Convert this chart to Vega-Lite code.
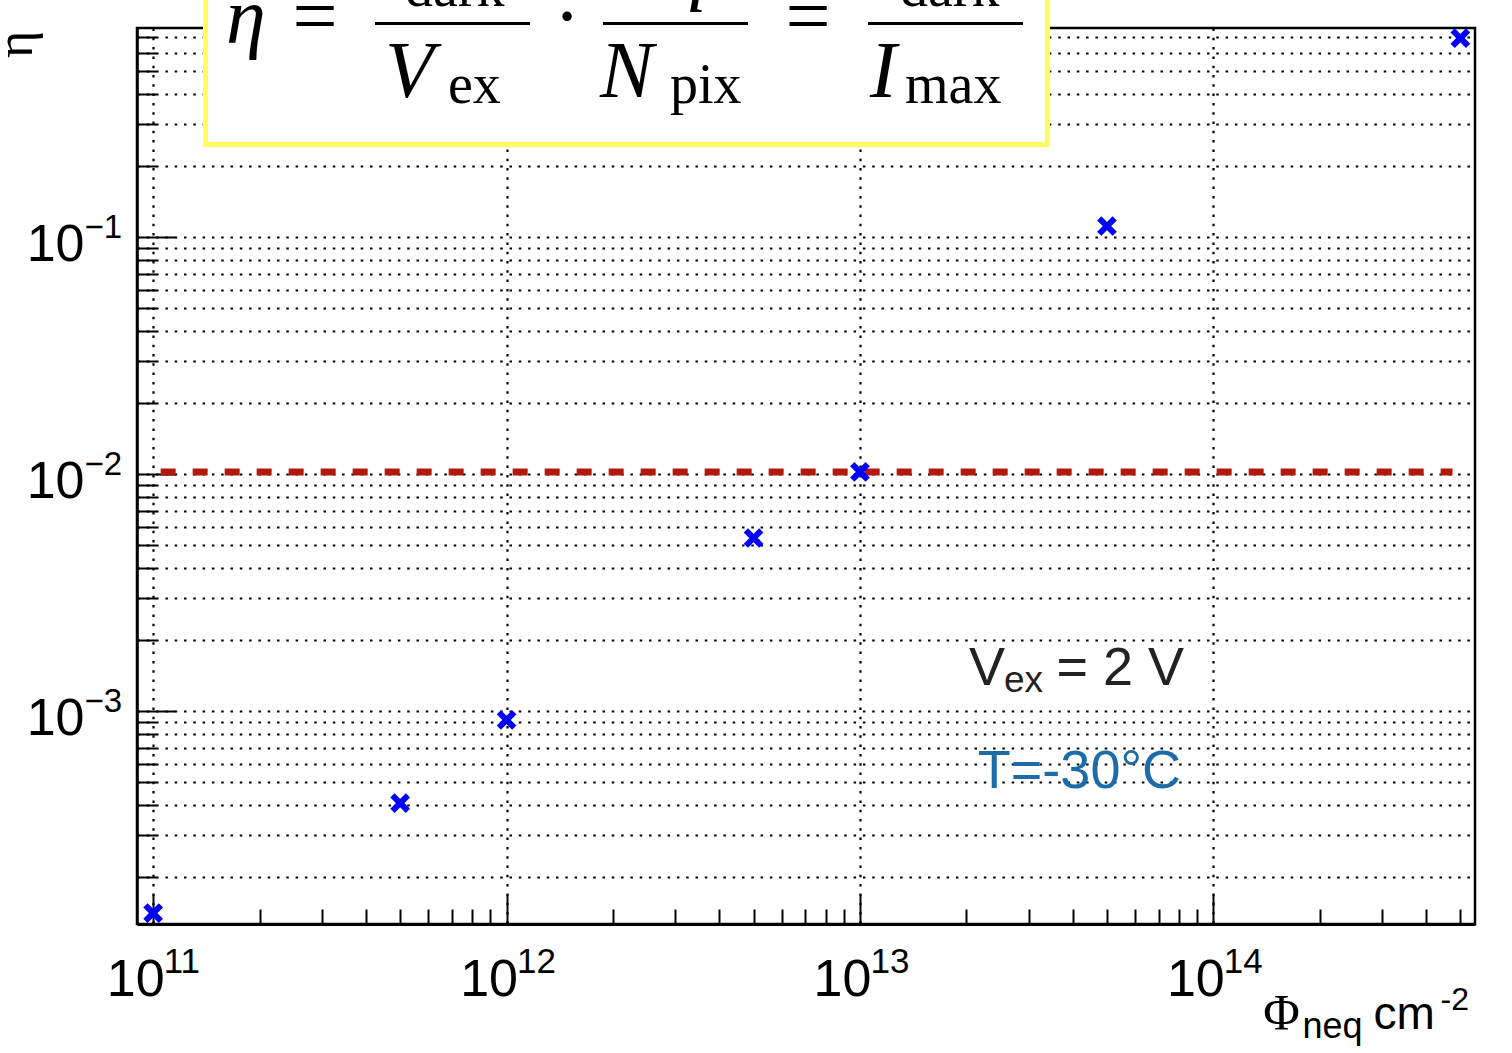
{
  "$schema": "https://vega.github.io/schema/vega-lite/v6.json",
  "width": 1338,
  "height": 896,
  "autosize": {"type": "none"},
  "padding": {"left": 137, "top": 28, "right": 37, "bottom": 129},
  "background": "white",
  "view": {"stroke": "black", "strokeWidth": 2.5},
  "config": {
    "axis": {
      "labelFont": "Liberation Sans",
      "titleFont": "Liberation Sans",
      "labelColor": "black",
      "titleColor": "black",
      "titleFontWeight": "normal",
      "labelFlush": false,
      "labelOverlap": false,
      "domainColor": "black",
      "tickColor": "black",
      "gridColor": "black"
    }
  },
  "resolve": {"axis": {"x": "independent", "y": "independent"}},
  "layer": [
    {
      "data": {"values": [{"phi": 1.05e11, "eta": 0.0102}, {"phi": 4.75e14, "eta": 0.0102}]},
      "mark": {"type": "line", "color": "#b5170c", "strokeWidth": 7, "strokeDash": [15, 17], "strokeCap": "butt"},
      "encoding": {
        "x": {"field": "phi", "type": "quantitative", "scale": {"type": "log", "domain": [9e10, 5.5e14], "nice": false},
          "axis": {"orient": "bottom", "values": [1e11, 1e12, 1e13, 1e14], "labelExpr": "'10'", "labelFontSize": 52, "labelAlign": "center", "labelBaseline": "alphabetic", "labelPadding": 71, "labelOffset": -18, "ticks": false, "domain": false, "grid": true, "gridDash": [2.5, 6.8], "gridWidth": 2.2, "title": "neq", "titleFontSize": 36, "titleX": 1165, "titleY": 113, "titleAlign": "left", "titleBaseline": "alphabetic", "titleAngle": 0}},
        "y": {"field": "eta", "type": "quantitative", "scale": {"type": "log", "domain": [1.263e-4, 0.762], "nice": false},
          "axis": {"orient": "left", "values": [0.001, 0.01, 0.1], "labelExpr": "'10'", "labelFontSize": 52, "labelAlign": "right", "labelBaseline": "alphabetic", "labelPadding": 53, "labelOffset": 23.5, "ticks": false, "domain": false, "grid": false, "title": null}}
      }
    },
    {
      "data": {"values": [{}]},
      "mark": {"type": "rect", "fill": "white", "stroke": "#ffff60", "strokeWidth": 5},
      "encoding": {
        "x": {"datum": 1.406e11, "type": "quantitative", "scale": {"type": "log", "domain": [9e10, 5.5e14], "nice": false},
          "axis": {"orient": "bottom", "values": [1e11, 1e12, 1e13, 1e14], "labelExpr": "'' + round(log(datum.value)/LN10)", "labelFontSize": 35, "labelAlign": "left", "labelBaseline": "alphabetic", "labelPadding": 48, "labelOffset": 10, "ticks": false, "domain": false, "grid": false, "title": "cm", "titleFontSize": 46, "titleX": 1236, "titleY": 104, "titleAlign": "left", "titleBaseline": "alphabetic", "titleAngle": 0}},
        "x2": {"datum": 3.394e13},
        "y": {"datum": 0.2457, "type": "quantitative", "scale": {"type": "log", "domain": [1.263e-4, 0.762], "nice": false},
          "axis": {"orient": "left", "values": [0.001, 0.01, 0.1], "labelExpr": "'−' + round(-log(datum.value)/LN10)", "labelFontSize": 33, "labelAlign": "left", "labelBaseline": "alphabetic", "labelPadding": 53, "labelOffset": 0, "ticks": false, "domain": false, "grid": false, "title": null}},
        "y2": {"datum": 5}
      }
    },
    {
      "data": {"values": [
        {"phi": 1e11, "eta": 1.405e-4},
        {"phi": 5e11, "eta": 4.091e-4},
        {"phi": 1e12, "eta": 9.166e-4},
        {"phi": 5e12, "eta": 5.371e-3},
        {"phi": 1e13, "eta": 1.02e-2},
        {"phi": 5e13, "eta": 0.1113},
        {"phi": 5e14, "eta": 0.6913}
      ]},
      "mark": {"type": "point", "shape": "M-1,-1L1,1M-1,1L1,-1", "filled": false, "color": "#0000ff", "strokeWidth": 6, "size": 240, "opacity": 1},
      "encoding": {
        "x": {"field": "phi", "type": "quantitative", "scale": {"type": "log", "domain": [9e10, 5.5e14], "nice": false},
          "axis": {"orient": "bottom", "values": [1e11, 2e11, 3e11, 4e11, 5e11, 6e11, 7e11, 8e11, 9e11, 1e12, 2e12, 3e12, 4e12, 5e12, 6e12, 7e12, 8e12, 9e12, 1e13, 2e13, 3e13, 4e13, 5e13, 6e13, 7e13, 8e13, 9e13, 1e14, 2e14, 3e14, 4e14, 5e14],
            "labels": false, "grid": false, "domain": true, "domainWidth": 3, "ticks": true, "tickWidth": 2,
            "tickSize": {"condition": {"test": "datum.value == 1e11 || datum.value == 1e12 || datum.value == 1e13 || datum.value == 1e14", "value": -30}, "value": -15},
            "title": "Φ", "titleFont": "Liberation Serif", "titleFontSize": 50, "titleX": 1144, "titleY": 104, "titleAlign": "center", "titleBaseline": "alphabetic", "titleAngle": 0}},
        "y": {"field": "eta", "type": "quantitative", "scale": {"type": "log", "domain": [1.263e-4, 0.762], "nice": false},
          "axis": {"orient": "left", "values": [2e-4, 3e-4, 4e-4, 5e-4, 6e-4, 7e-4, 8e-4, 9e-4, 1e-3, 2e-3, 3e-3, 4e-3, 5e-3, 6e-3, 7e-3, 8e-3, 9e-3, 0.01, 0.02, 0.03, 0.04, 0.05, 0.06, 0.07, 0.08, 0.09, 0.1, 0.2, 0.3, 0.4, 0.5, 0.6, 0.7],
            "labels": false, "grid": true, "gridDash": [2.5, 6.8], "gridWidth": 2.2, "domain": true, "domainWidth": 2.5, "ticks": true, "tickWidth": 2,
            "tickSize": {"condition": {"test": "datum.value == 0.001 || datum.value == 0.01 || datum.value == 0.1", "value": -38}, "value": -19},
            "title": "η", "titleFont": "Liberation Serif", "titleFontSize": 52, "titleAngle": 270, "titleX": -106, "titleY": 16, "titleAlign": "center", "titleBaseline": "alphabetic"}}
      }
    },
    {
      "data": {"values": [{}]},
      "mark": {"type": "text", "text": "V", "font": "Liberation Sans", "fontSize": 54, "align": "left", "baseline": "alphabetic", "color": "#222222"},
      "encoding": {
        "x": {"datum": 2.035e13, "type": "quantitative", "scale": {"type": "log", "domain": [9e10, 5.5e14], "nice": false},
          "axis": {"orient": "bottom", "labels": false, "ticks": false, "domain": false, "grid": false, "title": "-2", "titleFontSize": 32, "titleX": 1303, "titleY": 85, "titleAlign": "left", "titleBaseline": "alphabetic", "titleAngle": 0}},
        "y": {"datum": 1.2877e-3, "type": "quantitative", "scale": {"type": "log", "domain": [1.263e-4, 0.762], "nice": false}, "axis": null}
      }
    },
    {
      "data": {"values": [{}]},
      "mark": {"type": "text", "text": "ex", "font": "Liberation Sans", "fontSize": 37, "align": "left", "baseline": "alphabetic", "color": "#222222"},
      "encoding": {
        "x": {"datum": 2.5564e13, "type": "quantitative", "scale": {"type": "log", "domain": [9e10, 5.5e14], "nice": false}, "axis": null},
        "y": {"datum": 1.203e-3, "type": "quantitative", "scale": {"type": "log", "domain": [1.263e-4, 0.762], "nice": false}, "axis": null}
      }
    },
    {
      "data": {"values": [{}]},
      "mark": {"type": "text", "text": "= 2 V", "font": "Liberation Sans", "fontSize": 54, "align": "right", "baseline": "alphabetic", "color": "#222222"},
      "encoding": {
        "x": {"datum": 8.26e13, "type": "quantitative", "scale": {"type": "log", "domain": [9e10, 5.5e14], "nice": false}, "axis": null},
        "y": {"datum": 1.2877e-3, "type": "quantitative", "scale": {"type": "log", "domain": [1.263e-4, 0.762], "nice": false}, "axis": null}
      }
    },
    {
      "data": {"values": [{}]},
      "mark": {"type": "text", "text": "T=-30°C", "font": "Liberation Sans", "fontSize": 54, "align": "right", "baseline": "alphabetic", "color": "#1b6ca8"},
      "encoding": {
        "x": {"datum": 8.1e13, "type": "quantitative", "scale": {"type": "log", "domain": [9e10, 5.5e14], "nice": false}, "axis": null},
        "y": {"datum": 4.734e-4, "type": "quantitative", "scale": {"type": "log", "domain": [1.263e-4, 0.762], "nice": false}, "axis": null}
      }
    },
    {
      "data": {"values": [{}]},
      "mark": {"type": "text", "text": "η", "font": "Liberation Serif", "fontSize": 80, "fontStyle": "italic", "align": "left", "baseline": "alphabetic", "color": "black"},
      "encoding": {
        "x": {"datum": 1.6072e11, "type": "quantitative", "scale": {"type": "log", "domain": [9e10, 5.5e14], "nice": false}, "axis": null},
        "y": {"datum": 0.6587, "type": "quantitative", "scale": {"type": "log", "domain": [1.263e-4, 0.762], "nice": false}, "axis": null}
      }
    },
    {
      "data": {"values": [{}]},
      "mark": {"type": "text", "text": "=", "font": "Liberation Serif", "fontSize": 80, "align": "center", "baseline": "alphabetic", "color": "black"},
      "encoding": {
        "x": {"datum": 2.8704e11, "type": "quantitative", "scale": {"type": "log", "domain": [9e10, 5.5e14], "nice": false}, "axis": null},
        "y": {"datum": 0.6587, "type": "quantitative", "scale": {"type": "log", "domain": [1.263e-4, 0.762], "nice": false}, "axis": null}
      }
    },
    {
      "data": {"values": [{}]},
      "mark": {"type": "rule", "color": "black", "strokeWidth": 3},
      "encoding": {
        "x": {"datum": 4.2435e11, "type": "quantitative", "scale": {"type": "log", "domain": [9e10, 5.5e14], "nice": false}, "axis": null},
        "x2": {"datum": 1.165e12},
        "y": {"datum": 0.796, "type": "quantitative", "scale": {"type": "log", "domain": [1.263e-4, 0.762], "nice": false}, "axis": null}
      }
    },
    {
      "data": {"values": [{}]},
      "mark": {"type": "text", "text": "dark", "font": "Liberation Serif", "fontSize": 56, "align": "left", "baseline": "alphabetic", "color": "black"},
      "encoding": {
        "x": {"datum": 5.1596e11, "type": "quantitative", "scale": {"type": "log", "domain": [9e10, 5.5e14], "nice": false}, "axis": null},
        "y": {"datum": 0.9436, "type": "quantitative", "scale": {"type": "log", "domain": [1.263e-4, 0.762], "nice": false}, "axis": null}
      }
    },
    {
      "data": {"values": [{}]},
      "mark": {"type": "text", "text": "V", "font": "Liberation Serif", "fontSize": 80, "fontStyle": "italic", "align": "left", "baseline": "alphabetic", "color": "black"},
      "encoding": {
        "x": {"datum": 4.5292e11, "type": "quantitative", "scale": {"type": "log", "domain": [9e10, 5.5e14], "nice": false}, "axis": null},
        "y": {"datum": 0.38978, "type": "quantitative", "scale": {"type": "log", "domain": [1.263e-4, 0.762], "nice": false}, "axis": null}
      }
    },
    {
      "data": {"values": [{}]},
      "mark": {"type": "text", "text": "ex", "font": "Liberation Serif", "fontSize": 56, "align": "left", "baseline": "alphabetic", "color": "black"},
      "encoding": {
        "x": {"datum": 6.828e11, "type": "quantitative", "scale": {"type": "log", "domain": [9e10, 5.5e14], "nice": false}, "axis": null},
        "y": {"datum": 0.36771, "type": "quantitative", "scale": {"type": "log", "domain": [1.263e-4, 0.762], "nice": false}, "axis": null}
      }
    },
    {
      "data": {"values": [{}]},
      "mark": {"type": "text", "text": "·", "font": "Liberation Serif", "fontSize": 80, "align": "center", "baseline": "alphabetic", "color": "black"},
      "encoding": {
        "x": {"datum": 1.4826e12, "type": "quantitative", "scale": {"type": "log", "domain": [9e10, 5.5e14], "nice": false}, "axis": null},
        "y": {"datum": 0.6587, "type": "quantitative", "scale": {"type": "log", "domain": [1.263e-4, 0.762], "nice": false}, "axis": null}
      }
    },
    {
      "data": {"values": [{}]},
      "mark": {"type": "rule", "color": "black", "strokeWidth": 3},
      "encoding": {
        "x": {"datum": 1.8746e12, "type": "quantitative", "scale": {"type": "log", "domain": [9e10, 5.5e14], "nice": false}, "axis": null},
        "x2": {"datum": 4.8217e12},
        "y": {"datum": 0.796, "type": "quantitative", "scale": {"type": "log", "domain": [1.263e-4, 0.762], "nice": false}, "axis": null}
      }
    },
    {
      "data": {"values": [{}]},
      "mark": {"type": "text", "text": "q", "font": "Liberation Serif", "fontSize": 80, "fontStyle": "italic", "align": "center", "baseline": "alphabetic", "color": "black"},
      "encoding": {
        "x": {"datum": 3.2616e12, "type": "quantitative", "scale": {"type": "log", "domain": [9e10, 5.5e14], "nice": false}, "axis": null},
        "y": {"datum": 1.05, "type": "quantitative", "scale": {"type": "log", "domain": [1.263e-4, 0.762], "nice": false}, "axis": null}
      }
    },
    {
      "data": {"values": [{}]},
      "mark": {"type": "text", "text": "N", "font": "Liberation Serif", "fontSize": 80, "fontStyle": "italic", "align": "left", "baseline": "alphabetic", "color": "black"},
      "encoding": {
        "x": {"datum": 1.8383e12, "type": "quantitative", "scale": {"type": "log", "domain": [9e10, 5.5e14], "nice": false}, "axis": null},
        "y": {"datum": 0.38978, "type": "quantitative", "scale": {"type": "log", "domain": [1.263e-4, 0.762], "nice": false}, "axis": null}
      }
    },
    {
      "data": {"values": [{}]},
      "mark": {"type": "text", "text": "pix", "font": "Liberation Serif", "fontSize": 56, "align": "left", "baseline": "alphabetic", "color": "black"},
      "encoding": {
        "x": {"datum": 2.9006e12, "type": "quantitative", "scale": {"type": "log", "domain": [9e10, 5.5e14], "nice": false}, "axis": null},
        "y": {"datum": 0.36771, "type": "quantitative", "scale": {"type": "log", "domain": [1.263e-4, 0.762], "nice": false}, "axis": null}
      }
    },
    {
      "data": {"values": [{}]},
      "mark": {"type": "text", "text": "=", "font": "Liberation Serif", "fontSize": 80, "align": "center", "baseline": "alphabetic", "color": "black"},
      "encoding": {
        "x": {"datum": 7.1282e12, "type": "quantitative", "scale": {"type": "log", "domain": [9e10, 5.5e14], "nice": false}, "axis": null},
        "y": {"datum": 0.6587, "type": "quantitative", "scale": {"type": "log", "domain": [1.263e-4, 0.762], "nice": false}, "axis": null}
      }
    },
    {
      "data": {"values": [{}]},
      "mark": {"type": "rule", "color": "black", "strokeWidth": 3},
      "encoding": {
        "x": {"datum": 1.0538e13, "type": "quantitative", "scale": {"type": "log", "domain": [9e10, 5.5e14], "nice": false}, "axis": null},
        "x2": {"datum": 2.8933e13},
        "y": {"datum": 0.796, "type": "quantitative", "scale": {"type": "log", "domain": [1.263e-4, 0.762], "nice": false}, "axis": null}
      }
    },
    {
      "data": {"values": [{}]},
      "mark": {"type": "text", "text": "dark", "font": "Liberation Serif", "fontSize": 56, "align": "left", "baseline": "alphabetic", "color": "black"},
      "encoding": {
        "x": {"datum": 1.2981e13, "type": "quantitative", "scale": {"type": "log", "domain": [9e10, 5.5e14], "nice": false}, "axis": null},
        "y": {"datum": 0.9436, "type": "quantitative", "scale": {"type": "log", "domain": [1.263e-4, 0.762], "nice": false}, "axis": null}
      }
    },
    {
      "data": {"values": [{}]},
      "mark": {"type": "text", "text": "I", "font": "Liberation Serif", "fontSize": 80, "fontStyle": "italic", "align": "left", "baseline": "alphabetic", "color": "black"},
      "encoding": {
        "x": {"datum": 1.0677e13, "type": "quantitative", "scale": {"type": "log", "domain": [9e10, 5.5e14], "nice": false}, "axis": null},
        "y": {"datum": 0.38978, "type": "quantitative", "scale": {"type": "log", "domain": [1.263e-4, 0.762], "nice": false}, "axis": null}
      }
    },
    {
      "data": {"values": [{}]},
      "mark": {"type": "text", "text": "max", "font": "Liberation Serif", "fontSize": 56, "align": "left", "baseline": "alphabetic", "color": "black"},
      "encoding": {
        "x": {"datum": 1.3411e13, "type": "quantitative", "scale": {"type": "log", "domain": [9e10, 5.5e14], "nice": false}, "axis": null},
        "y": {"datum": 0.36771, "type": "quantitative", "scale": {"type": "log", "domain": [1.263e-4, 0.762], "nice": false}, "axis": null}
      }
    }
  ]
}
